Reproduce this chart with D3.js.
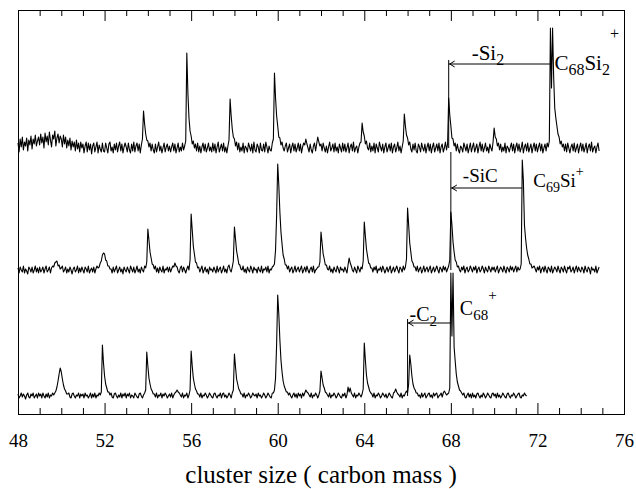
<!DOCTYPE html>
<html>
<head>
<meta charset="utf-8">
<script src="https://cdn.jsdelivr.net/npm/d3@7"></script>
<style>
  body { margin: 0; background: #fff; }
  svg { display: block; }
  svg text { font-family: "Liberation Serif", "DejaVu Serif", serif; }
</style>
</head>
<body>
<main></main>
<script>
// spectra sampled every 0.05 carbon mass units, starting at 48
// one row = one carbon mass unit (20 samples), heights above each trace's baseline
const massStart = 48;
const massStep = 0.05;

// C68Si2+ spectrum (upper trace)
const siTwoTrace = [
	5,-4,9,1,11,-2,6,2,10,-3,8,3,12,-1,9,4,13,2,7,11,
	3,14,5,11,0,15,6,12,3,16,8,1,13,9,17,2,10,14,5,12,
	9,1,13,4,11,0,8,2,10,-2,7,1,6,-3,8,-1,5,-4,6,0,
	4,-5,2,6,-4,5,-2,4,-6,2,5,-4,1,6,-5,3,-1,-4,5,-3,
	-4,5,0,-5,4,6,-3,1,-5,4,-2,5,-4,2,6,-3,4,-5,1,5,
	1,-4,5,-2,-5,4,-3,6,-4,2,5,-3,4,-5,3,9,37,24,14,8,
	7,1,5,-3,4,-2,-5,4,-4,1,6,-3,2,-5,0,5,-4,1,4,-3,
	2,-4,1,5,-3,4,-5,0,5,-4,1,-3,5,-2,2,7,95,55,30,17,
	12,4,7,0,4,-3,5,-4,2,-5,1,5,-3,4,-4,0,5,-3,1,-4,
	5,-3,4,-5,1,6,-4,0,4,-3,5,-4,1,-5,2,8,49,32,19,11,
	9,2,6,-2,5,-4,1,-3,5,-5,2,0,-4,5,1,-3,4,-5,6,-2,
	-4,4,1,-5,5,-2,-3,4,-4,6,1,-5,2,-2,-3,5,9,75,50,32,
	22,11,10,3,6,0,-3,2,5,-4,0,4,-5,1,5,-3,4,-4,0,5,
	-3,4,-5,1,5,3,9,4,0,-4,4,-2,-5,2,5,-3,4,11,6,2,
	4,-3,5,0,-4,2,-5,1,6,-3,0,4,-4,5,-3,1,-5,4,0,-4,
	5,-3,4,-4,0,5,-5,1,4,-3,6,-4,0,2,-5,1,5,6,25,16,
	12,4,7,0,-2,5,-4,2,-3,5,-5,4,0,-4,6,1,-3,4,-5,1,
	5,-4,0,4,-3,5,-5,1,4,-4,0,6,-3,2,-5,1,7,34,22,13,
	10,3,6,-1,-4,4,-2,5,-3,-5,4,1,-4,5,0,-3,4,-5,1,5,
	-3,4,-5,1,5,-4,0,4,-3,5,-5,1,4,-4,0,6,-2,4,50,33,
	22,10,9,2,5,-3,4,-2,-5,2,0,-4,5,1,-3,4,-5,0,5,-4,
	1,5,-4,0,4,-5,1,6,-3,4,-4,0,5,-3,1,-5,4,0,-3,6,
	20,11,9,2,5,-2,4,-4,1,-3,5,-5,2,0,-4,1,5,-3,4,-5,
	1,5,-3,4,-4,0,6,-5,1,4,-3,5,-4,0,4,-5,1,5,-3,4,
	-4,1,5,-3,4,-5,0,4,-3,5,1,7,120,60,120,71,40,30,22,14,
	11,4,7,1,4,-3,4,-4,5,0,-5,1,4,-3,5,-4,0,4,-5,1,
	5,-3,4,-4,0,5,-5,1,4,-3,6,-4,0,2,-5,1,5,-3
];

// C69Si+ spectrum (middle trace)
const siTrace = [
	2,-3,3,0,-2,4,-3,1,-1,-4,3,1,-2,3,-3,0,4,-2,2,-3,
	3,-2,0,3,-3,1,4,-2,0,3,-3,2,4,3,7,8,9,4,5,1,
	2,4,-2,0,3,-3,1,-2,3,0,-4,1,3,-2,0,4,-3,2,-2,3,
	0,-3,3,1,-2,4,-3,0,2,-2,3,-3,1,4,2,3,7,9,15,17,
	16,10,9,4,4,1,1,-3,3,-2,1,4,-3,0,3,-2,1,-4,3,0,
	-2,3,0,-3,4,1,-2,3,-3,0,4,-2,1,-3,3,0,-2,4,2,8,
	41,30,18,12,6,5,1,4,-2,2,-3,3,0,-2,4,-3,1,0,3,-2,
	3,-2,1,4,3,7,4,3,-1,-3,2,4,-2,3,0,-3,1,4,0,10,
	56,40,24,16,8,7,2,3,-2,1,4,-3,0,3,-2,1,-4,3,0,1,
	-2,3,0,-3,4,-2,1,3,-3,0,4,-2,1,-3,3,5,0,-2,3,9,
	43,31,19,13,6,5,1,0,4,-2,1,-3,3,0,-2,4,1,-3,3,0,
	1,-3,3,0,-2,4,-3,1,0,3,-2,4,-3,1,0,3,4,6,20,55,
	106,85,58,38,26,15,11,5,5,1,4,-2,1,3,-3,0,4,-2,1,3,
	-2,1,4,-3,0,3,-2,4,0,-3,1,3,-2,4,-3,0,1,3,3,8,
	38,27,16,11,5,5,1,0,4,-2,1,-3,3,0,-2,4,1,-3,3,0,
	1,-2,3,0,-3,5,12,7,4,0,-2,3,0,-3,4,1,-2,3,1,9,
	48,34,21,14,7,6,2,2,-2,3,0,4,-3,1,0,3,-2,4,1,-3,
	0,3,-2,1,4,-3,0,3,-2,1,4,0,-3,3,1,-2,4,0,3,11,
	62,45,27,18,9,7,3,3,-1,4,-2,1,3,-3,0,4,-2,1,3,-2,
	1,4,-3,0,3,-2,1,4,0,-3,3,1,-2,4,0,3,-2,1,4,10,
	58,45,28,18,10,8,3,4,0,-2,3,0,4,-3,1,3,-2,0,4,1,
	-2,3,0,4,-3,1,3,-2,0,4,1,-3,3,0,-2,4,1,-2,3,0,
	3,-2,1,4,-3,0,3,1,-2,4,0,-3,3,1,-2,4,0,3,-2,1,
	4,-2,3,0,1,6,110,90,45,32,22,15,11,6,6,2,3,4,1,-2,
	3,0,4,-3,1,3,-2,4,0,-3,3,1,-2,4,-3,0,3,1,-2,4,
	0,-3,3,1,-2,4,0,-3,3,1,4,-2,0,3,-3,1,4,-2,3,0,
	-2,3,1,-3,4,0,-2,3,1,-4,3,0,1,-2,4,-3,0,3
];

// C68+ spectrum (lower trace)
const cTrace = [
	2,-2,0,3,-1,2,0,-3,1,3,-1,-2,2,0,3,-2,0,2,-2,3,
	0,2,-2,3,0,-2,2,-1,3,-2,1,0,3,1,3,5,9,15,22,28,
	24,17,11,7,5,2,2,3,-1,-2,2,3,0,-2,1,0,3,-2,2,0,
	2,-2,3,0,1,-2,0,3,-2,2,-1,3,-2,1,0,3,1,4,51,33,
	20,12,8,4,4,1,3,-1,-2,2,3,0,-2,1,-1,3,-2,2,0,3,
	-2,2,0,3,-2,1,0,-2,3,1,-1,-2,2,3,0,-2,1,3,6,44,
	30,18,12,7,5,2,2,-1,3,-2,1,0,3,-2,2,0,3,1,-2,0,
	2,-1,3,-2,1,3,4,6,4,3,1,-1,3,-2,1,0,3,-2,1,6,
	45,30,18,12,7,5,2,2,-1,3,-2,1,0,3,1,-2,0,3,1,-1,
	-2,2,3,0,-2,1,0,3,-2,2,3,-1,1,-2,0,3,1,-2,3,6,
	42,29,17,12,7,5,2,2,-1,3,-2,1,0,3,1,-2,0,3,1,0,
	2,-2,3,0,1,-2,0,3,1,-2,0,3,1,-1,-2,3,3,6,18,52,
	101,82,56,36,24,15,10,7,4,4,1,3,0,-2,1,3,-1,2,-2,3,
	0,2,-2,3,0,3,6,4,3,1,-1,3,-2,1,0,3,1,-2,1,5,
	25,18,11,8,4,3,1,-1,3,-2,1,0,3,1,-2,0,3,1,-1,-2,
	2,0,3,-2,1,9,4,8,3,1,-1,3,-2,1,0,3,1,-1,2,7,
	53,36,21,13,9,5,3,2,-1,3,-2,1,0,3,1,-2,0,3,1,-1,
	2,-2,0,3,1,-1,-2,3,4,7,4,2,1,-1,3,-2,1,0,3,5,
	3,12,41,32,20,12,8,6,3,3,0,1,-2,3,-1,1,3,-2,0,2,
	3,-1,1,-2,3,0,2,3,-2,0,1,3,-1,3,5,3,1,2,3,8,
	123,60,123,49,35,22,14,10,6,5,3,1,3,-1,-2,1,3,-1,2,-2,
	3,-1,1,-2,2,3,0,-2,1,-1,3,1,-2,0,3,1,-1,-2,2,3,
	0,2,-2,3,-1,1,-2,0,3,1,-1,-2,2,3,0,-2,1,0,3,1,
	-2,0,2,3,-1,-2,1,0,3,1,0
];

// vertical offset of each trace (same units as the heights)
const traces = [siTwoTrace, siTrace, cTrace];
const traceOffsets = [266, 144, 18];

const majorTicks = [48, 52, 56, 60, 64, 68, 72, 76];
const minorTicks = [49, 50, 51, 53, 54, 55, 57, 58, 59, 61, 62, 63, 65, 66, 67, 69, 70, 71, 73, 74, 75];
const xTitle = "cluster size ( carbon mass )";

// parent ion -> fragment, arrow height and marker line height above the baseline
const annotations = [
	{trace: 0, parent: 72.6, fragment: 67.9, arrowAt: 84, lineTop: 88,
		loss: [["-Si", ""], ["2", "sub"]],
		ion: [["C", ""], ["68", "sub"], ["Si", ""], ["2", "sub"], ["+", "sup"]]},
	{trace: 1, parent: 71.3, fragment: 68, arrowAt: 82, lineTop: 118,
		loss: [["-SiC", ""]],
		ion: [["C", ""], ["69", "sub"], ["Si", ""], ["+", "sup"]]},
	{trace: 2, parent: 68, fragment: 66, arrowAt: 73, lineTop: 77,
		loss: [["-C", ""], ["2", "sub"]],
		ion: [["C", ""], ["68", "sub"], ["+", "sup"]]}
];

let drawChart = (w = 636, h = 489) => {
	const margin = {top: 10, right: 12, bottom: 75, left: 18};

	// label placement per annotation (pixels): loss label offset from the fragment line,
	// ion label offset from the parent line, height of the charge sign, font sizes
	const labelPos = [
		{lossDx: 23, lossDy: -4, ionDx: 4, ionDy: 6, supRise: 31, size: 21, small: 16},
		{lossDx: 12, lossDy: -6, ionDx: 11, ionDy: -1, supRise: 11, size: 19, small: 14},
		{lossDx: 2, lossDy: -2, ionDx: 9, ionDy: -8, supRise: 15, size: 20, small: 15}
	];

	let x = d3.scaleLinear()
		.domain([48, 76])
		.range([margin.left, w - margin.right]);

	let y = d3.scaleLinear()
		.domain([0, 404])
		.range([h - margin.bottom, margin.top]);

	let svg = d3.select("main")
		.append("svg")
		.attr("width", w)
		.attr("height", h)
		.attr("viewBox", `0 0 ${w} ${h}`);

	// spectra
	let line = d3.line()
		.x((d, i) => x(massStart + i * massStep))
		.y(d => y(d));

	svg.append("g")
		.selectAll("path")
		.data(traces.map((t, k) => t.map(v => v + traceOffsets[k])))
		.join("path")
			.attr("d", line)
			.attr("fill", "none")
			.attr("stroke", "#000")
			.attr("stroke-width", 1.1)
			.attr("stroke-linejoin", "round");

	// annotations
	let ann = svg.append("g")
		.attr("stroke", "#000")
		.attr("stroke-width", 1);

	let formula = (parts, x0, y0, supRise, size, small) => {
		let t = svg.append("text")
			.attr("x", x0)
			.attr("y", y0)
			.attr("font-size", size);
		parts.forEach(([s, kind]) => {
			let ts = t.append("tspan").text(s);
			if (kind == "sub") ts.attr("y", y0 + 5).attr("font-size", small);
			else if (kind == "sup") ts.attr("y", y0 - supRise).attr("font-size", small);
			else ts.attr("y", y0);
		});
	};

	annotations.forEach((a, i) => {
		const base = traceOffsets[a.trace];
		const xf = x(a.fragment);
		const xp = x(a.parent);
		const ya = y(base + a.arrowAt);
		const pos = labelPos[i];

		ann.append("line")
			.attr("x1", xf).attr("x2", xf)
			.attr("y1", y(base)).attr("y2", y(base + a.lineTop));
		ann.append("line")
			.attr("x1", xf).attr("x2", xp)
			.attr("y1", ya).attr("y2", ya);
		ann.append("path")
			.attr("fill", "none")
			.attr("d", `M${xf + 6},${ya - 3}L${xf + 1},${ya}L${xf + 6},${ya + 3}`);

		formula(a.loss, xf + pos.lossDx, ya + pos.lossDy, 0, pos.size, pos.small);
		formula(a.ion, xp + pos.ionDx, ya + pos.ionDy, pos.supRise, pos.size, pos.small);
	});

	// frame with inward ticks
	const x0 = margin.left, x1 = w - margin.right;
	const y0 = margin.top, y1 = h - margin.bottom;

	let bottomAxis = svg.append("g")
		.attr("transform", `translate(0,${y1})`)
		.call(d3.axisBottom(x).tickValues(majorTicks).tickSizeInner(-11).tickSizeOuter(0).tickPadding(20))
		.call(g => g.select(".domain").remove());
	bottomAxis.attr("font-family", null);
	bottomAxis.selectAll("text")
		.attr("font-size", 19)
		.attr("fill", "#000");

	svg.append("g")
		.attr("transform", `translate(0,${y1})`)
		.call(d3.axisBottom(x).tickValues(minorTicks).tickSizeInner(-6).tickSizeOuter(0).tickFormat(""))
		.call(g => g.select(".domain").remove());

	svg.append("g")
		.attr("transform", `translate(0,${y0})`)
		.call(d3.axisTop(x).tickValues(majorTicks).tickSizeInner(-11).tickSizeOuter(0).tickFormat(""))
		.call(g => g.select(".domain").remove());

	svg.append("g")
		.attr("transform", `translate(0,${y0})`)
		.call(d3.axisTop(x).tickValues(minorTicks).tickSizeInner(-6).tickSizeOuter(0).tickFormat(""))
		.call(g => g.select(".domain").remove());

	svg.append("rect")
		.attr("x", x0 + 0.5)
		.attr("y", y0 + 0.5)
		.attr("width", x1 - x0)
		.attr("height", y1 - y0)
		.attr("fill", "none")
		.attr("stroke", "#000");

	svg.append("text")
		.attr("x", (x0 + x1) / 2)
		.attr("y", 483)
		.attr("text-anchor", "middle")
		.attr("font-size", 25)
		.text(xTitle);
};

drawChart();
</script>
</body>
</html>
